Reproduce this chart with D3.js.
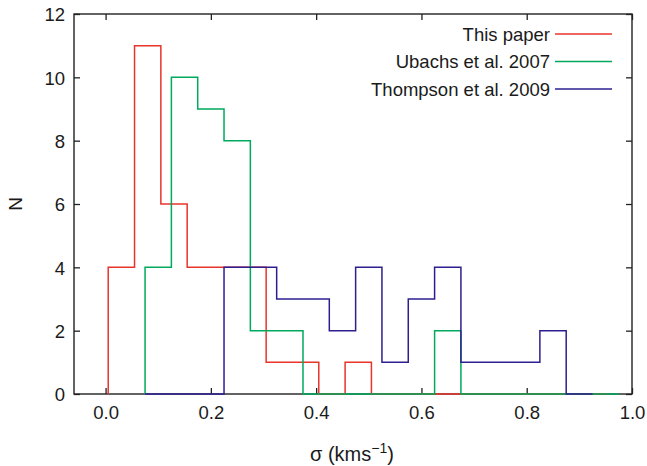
<!DOCTYPE html>
<html>
<head>
<meta charset="utf-8">
<script src="https://cdn.jsdelivr.net/npm/d3@7"></script>
<style>
  html, body { margin: 0; padding: 0; background: #fff; }
  svg { display: block; }
  text { font-family: "Liberation Sans", Arial, Helvetica, sans-serif; fill: #1a1a1a; }
</style>
</head>
<body>
<svg id="chart" width="647" height="466"></svg>
<script>
// Histogram bins: width 0.05, counts listed from the first bin edge
const binWidth = 0.05;

const seriesNames = ["This paper", "Ubachs et al. 2007", "Thompson et al. 2009"];
const seriesColors = ["#e8342b", "#00a95c", "#2d1f90"];

// This paper: first bin edge 0.005
const thisPaperStart = 0.005;
const thisPaperCounts = [4, 11, 6, 4, 4, 4, 1, 1, 0, 1, 0, 0, 0, 0, 0, 0, 0, 0, 0];

// Ubachs et al. 2007: first bin edge 0.075
const ubachsStart = 0.075;
const ubachsCounts = [4, 10, 9, 8, 2, 2, 0, 0, 0, 0, 0, 2, 0, 0, 0, 0, 0, 0];

// Thompson et al. 2009: first bin edge 0.075
const thompsonStart = 0.075;
const thompsonCounts = [0, 0, 0, 4, 4, 3, 3, 2, 4, 1, 3, 4, 1, 1, 1, 2, 0];

const xTicks = [0.0, 0.2, 0.4, 0.6, 0.8, 1.0];
const yTicks = [0, 2, 4, 6, 8, 10, 12];

const svg = d3.select("#chart");
const plotLeft = 74, plotRight = 632, plotTop = 14, plotBottom = 394;
const labelSize = "18.5px";

const x = d3.scaleLinear().domain([-0.06, 1.0]).range([plotLeft, plotRight]);
const y = d3.scaleLinear().domain([0, 12]).range([plotBottom, plotTop]);

// Frame
svg.append("rect")
  .attr("x", plotLeft).attr("y", plotTop)
  .attr("width", plotRight - plotLeft).attr("height", plotBottom - plotTop)
  .attr("fill", "none").attr("stroke", "#222").attr("stroke-width", 1.4);

// Axes with inward ticks on all four sides
const tickLen = 6;
const axB = svg.append("g").attr("transform", `translate(0,${plotBottom})`)
  .call(d3.axisBottom(x).tickValues(xTicks).tickFormat(d3.format(".1f")).tickSize(-tickLen).tickPadding(12));
const axT = svg.append("g").attr("transform", `translate(0,${plotTop})`)
  .call(d3.axisTop(x).tickValues(xTicks).tickFormat("").tickSize(-tickLen));
const axL = svg.append("g").attr("transform", `translate(${plotLeft},0)`)
  .call(d3.axisLeft(y).tickValues(yTicks).tickFormat(d3.format("d")).tickSize(-tickLen).tickPadding(9));
const axR = svg.append("g").attr("transform", `translate(${plotRight},0)`)
  .call(d3.axisRight(y).tickValues(yTicks).tickFormat("").tickSize(-tickLen));

[axB, axT, axL, axR].forEach(g => {
  g.select(".domain").remove();
  g.selectAll(".tick line").attr("stroke", "#222").attr("stroke-width", 1.3);
  g.selectAll(".tick text")
    .style("font-family", '"Liberation Sans", Arial, sans-serif')
    .style("font-size", labelSize)
    .attr("fill", "#1a1a1a");
});
axL.selectAll(".tick text").attr("dy", "0.36em");
axB.selectAll(".tick text").attr("dy", "0.68em");

// Step outlines of each histogram
const series = [
  { start: thisPaperStart, counts: thisPaperCounts },
  { start: ubachsStart, counts: ubachsCounts },
  { start: thompsonStart, counts: thompsonCounts }
];

const stepLine = d3.line()
  .x(d => x(d[0]))
  .y(d => y(d[1]))
  .curve(d3.curveStepAfter);

series.forEach((s, i) => {
  const pts = [[s.start, 0]];
  s.counts.forEach((c, k) => pts.push([s.start + k * binWidth, c]));
  const end = s.start + s.counts.length * binWidth;
  pts.push([end, s.counts[s.counts.length - 1]]);
  pts.push([end, 0]);
  svg.append("path")
    .attr("d", stepLine(pts))
    .attr("fill", "none")
    .attr("stroke", seriesColors[i])
    .attr("stroke-width", 1.5);
});

// Legend
const legendY = [34, 61.5, 89];
seriesNames.forEach((name, i) => {
  svg.append("text")
    .attr("x", 550).attr("y", legendY[i] + 6.5)
    .attr("text-anchor", "end")
    .style("font-size", labelSize)
    .text(name);
  svg.append("line")
    .attr("x1", 555).attr("x2", 612)
    .attr("y1", legendY[i]).attr("y2", legendY[i])
    .attr("stroke", seriesColors[i]).attr("stroke-width", 1.5);
});

// Axis titles
svg.append("text")
  .attr("transform", "translate(22,204) rotate(-90)")
  .attr("text-anchor", "middle")
  .style("font-size", "19px")
  .text("N");

const xt = svg.append("text")
  .attr("x", 352).attr("y", 461)
  .attr("text-anchor", "middle")
  .style("font-size", "20px");
xt.append("tspan").text("σ (kms");
xt.append("tspan").attr("dy", -8).style("font-size", "14px").text("−1");
xt.append("tspan").attr("dy", 8).text(")");
</script>
</body>
</html>
